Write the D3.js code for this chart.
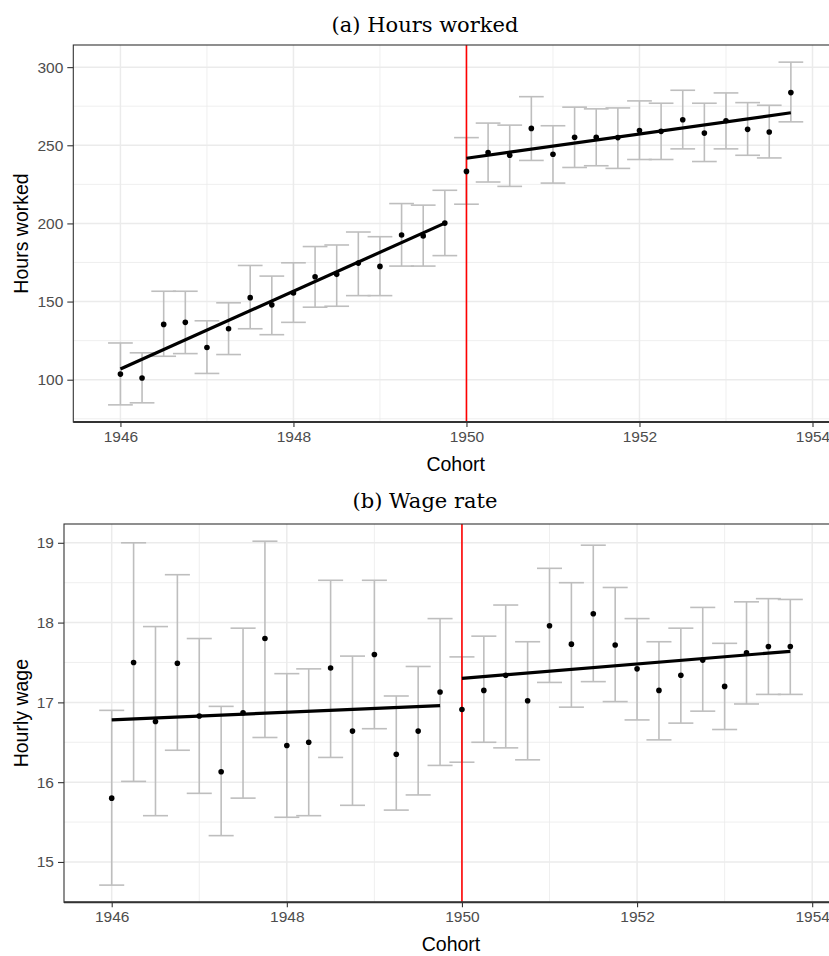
<!DOCTYPE html>
<html>
<head>
<meta charset="utf-8">
<script src="https://cdn.jsdelivr.net/npm/d3@7/dist/d3.min.js"></script>
<style>
  html, body { margin: 0; padding: 0; background: #ffffff; }
  svg { display: block; }
</style>
</head>
<body>
<svg id="chart" width="829" height="956"></svg>
<script>
// ---------------- DATA ----------------
const cohorts = [1946, 1946.25, 1946.5, 1946.75, 1947, 1947.25, 1947.5, 1947.75,
                 1948, 1948.25, 1948.5, 1948.75, 1949, 1949.25, 1949.5, 1949.75,
                 1950, 1950.25, 1950.5, 1950.75, 1951, 1951.25, 1951.5, 1951.75,
                 1952, 1952.25, 1952.5, 1952.75, 1953, 1953.25, 1953.5, 1953.75];

const hoursPoint = [103.6, 101.1, 135.4, 136.7, 120.6, 132.6, 152.5, 147.9,
                    155.5, 165.9, 167.4, 174.6, 172.5, 192.6, 192.0, 200.2,
                    233.3, 245.3, 243.6, 260.8, 244.3, 255.1, 255.1, 254.9,
                    259.5, 258.9, 266.3, 257.8, 265.7, 260.2, 258.5, 283.7];
const hoursLower = [83.9, 85.2, 115.0, 116.7, 104.0, 116.1, 132.6, 128.8,
                    136.7, 146.4, 147.0, 153.8, 153.8, 172.7, 172.7, 179.4,
                    212.3, 226.5, 223.7, 240.3, 225.8, 235.8, 236.9, 235.2,
                    240.9, 240.9, 247.7, 239.6, 247.7, 243.6, 241.9, 265.0];
const hoursUpper = [123.5, 117.2, 156.6, 156.6, 137.7, 149.2, 173.1, 166.3,
                    174.8, 185.2, 186.2, 194.5, 191.5, 212.7, 211.7, 221.2,
                    254.9, 264.2, 262.9, 281.1, 262.5, 274.4, 273.3, 273.9,
                    278.4, 276.9, 285.2, 276.9, 283.5, 277.3, 275.6, 303.2];

const wagePoint = [15.80, 17.50, 16.76, 17.49, 16.83, 16.13, 16.87, 17.80,
                   16.46, 16.50, 17.43, 16.64, 17.60, 16.35, 16.64, 17.13,
                   16.91, 17.15, 17.34, 17.02, 17.96, 17.73, 18.11, 17.72,
                   17.42, 17.15, 17.34, 17.53, 17.20, 17.62, 17.70, 17.70];
const wageLower = [14.71, 16.01, 15.58, 16.40, 15.86, 15.33, 15.80, 16.56,
                   15.56, 15.58, 16.31, 15.71, 16.67, 15.65, 15.84, 16.21,
                   16.25, 16.50, 16.43, 16.28, 17.25, 16.94, 17.26, 17.01,
                   16.78, 16.53, 16.74, 16.89, 16.66, 16.98, 17.10, 17.10];
const wageUpper = [16.90, 19.00, 17.95, 18.60, 17.80, 16.95, 17.93, 19.02,
                   17.36, 17.42, 18.53, 17.58, 18.53, 17.08, 17.45, 18.05,
                   17.57, 17.83, 18.22, 17.76, 18.68, 18.50, 18.97, 18.44,
                   18.05, 17.76, 17.93, 18.19, 17.74, 18.26, 18.30, 18.29];

// fitted regression segments (endpoints)
const fitPreX  = [1946, 1949.75];
const fitPostX = [1950, 1953.75];
const hoursFitPre  = [106.8, 200.2];
const hoursFitPost = [241.7, 270.8];
const wageFitPre   = [16.78, 16.96];
const wageFitPost  = [17.30, 17.64];

const cutoff = 1950;
const xTicks = [1946, 1948, 1950, 1952, 1954];
const xMinor = [1947, 1949, 1951, 1953];
const hoursTicks = [100, 150, 200, 250, 300];
const hoursMinor = [75, 125, 175, 225, 275];
const wageTicks = [15, 16, 17, 18, 19];
const wageMinor = [14.5, 15.5, 16.5, 17.5, 18.5];

const titles = ["(a) Hours worked", "(b) Wage rate"];
const yTitles = ["Hours worked", "Hourly wage"];
const xTitle = "Cohort";

// ---------------- DRAW ----------------
const svg = d3.select("#chart");
const capWidth = 0.286;

function expand(lo, hi) {
  const r = hi - lo;
  return [lo - 0.05 * r, hi + 0.05 * r];
}

function drawPanel(cfg) {
  const g = svg.append("g");
  const xDom = expand(d3.min(cohorts) - capWidth / 2, d3.max(cohorts) + capWidth / 2);
  const yDom = expand(d3.min(cfg.lower), d3.max(cfg.upper));
  const x = d3.scaleLinear().domain(xDom).range([cfg.left, cfg.right]);
  const y = d3.scaleLinear().domain(yDom).range([cfg.bottom, cfg.top]);

  // grid
  const grid = g.append("g");
  grid.selectAll(".xminor").data(xMinor).enter().append("line")
    .attr("x1", d => x(d)).attr("x2", d => x(d))
    .attr("y1", cfg.top).attr("y2", cfg.bottom)
    .attr("stroke", "#EBEBEB").attr("stroke-width", 0.8);
  grid.selectAll(".yminor").data(cfg.yMinor).enter().append("line")
    .attr("x1", cfg.left).attr("x2", cfg.right)
    .attr("y1", d => y(d)).attr("y2", d => y(d))
    .attr("stroke", "#EBEBEB").attr("stroke-width", 0.8);
  grid.selectAll(".xmajor").data(xTicks).enter().append("line")
    .attr("x1", d => x(d)).attr("x2", d => x(d))
    .attr("y1", cfg.top).attr("y2", cfg.bottom)
    .attr("stroke", "#EBEBEB").attr("stroke-width", 1.5);
  grid.selectAll(".ymajor").data(cfg.yTicks).enter().append("line")
    .attr("x1", cfg.left).attr("x2", cfg.right)
    .attr("y1", d => y(d)).attr("y2", d => y(d))
    .attr("stroke", "#EBEBEB").attr("stroke-width", 1.5);

  // error bars
  const eb = g.append("g").attr("stroke", "#BEBEBE").attr("stroke-width", 1.6).attr("fill", "none");
  cohorts.forEach((c, i) => {
    eb.append("line").attr("x1", x(c)).attr("x2", x(c))
      .attr("y1", y(cfg.lower[i])).attr("y2", y(cfg.upper[i]));
    eb.append("line").attr("x1", x(c - capWidth / 2)).attr("x2", x(c + capWidth / 2))
      .attr("y1", y(cfg.lower[i])).attr("y2", y(cfg.lower[i]));
    eb.append("line").attr("x1", x(c - capWidth / 2)).attr("x2", x(c + capWidth / 2))
      .attr("y1", y(cfg.upper[i])).attr("y2", y(cfg.upper[i]));
  });

  // cutoff line
  g.append("line")
    .attr("x1", x(cutoff)).attr("x2", x(cutoff))
    .attr("y1", cfg.top).attr("y2", cfg.bottom)
    .attr("stroke", "#FF0000").attr("stroke-width", 1.6);

  // fitted lines
  const line = d3.line().x(d => x(d[0])).y(d => y(d[1]));
  [[fitPreX, cfg.fitPre], [fitPostX, cfg.fitPost]].forEach(([xs, ys]) => {
    g.append("path").datum(d3.zip(xs, ys))
      .attr("d", line).attr("fill", "none")
      .attr("stroke", "#000000").attr("stroke-width", 3.2);
  });

  // points
  g.append("g").selectAll("circle").data(cohorts).enter().append("circle")
    .attr("cx", d => x(d)).attr("cy", (d, i) => y(cfg.point[i]))
    .attr("r", 2.8).attr("fill", "#000000");

  // panel border
  g.append("rect")
    .attr("x", cfg.left).attr("y", cfg.top)
    .attr("width", cfg.right - cfg.left).attr("height", cfg.bottom - cfg.top)
    .attr("fill", "none").attr("stroke", "#333333").attr("stroke-width", 1.1);
  g.append("line")
    .attr("x1", cfg.left).attr("x2", cfg.right)
    .attr("y1", cfg.bottom).attr("y2", cfg.bottom)
    .attr("stroke", "#333333").attr("stroke-width", 2);

  // axes
  const xAxis = d3.axisBottom(x).tickValues(xTicks).tickFormat(d3.format("d"))
    .tickSize(5).tickPadding(4);
  const xa = g.append("g").attr("transform", `translate(0,${cfg.bottom})`).call(xAxis);
  xa.select(".domain").remove();
  xa.selectAll(".tick line").attr("stroke", "#333333").attr("stroke-width", 1.1);
  xa.selectAll(".tick text").attr("fill", "#4D4D4D")
    .style("font-family", "'Liberation Sans', Arial, sans-serif").style("font-size", "15.5px");

  const yAxis = d3.axisLeft(y).tickValues(cfg.yTicks).tickFormat(d3.format("d"))
    .tickSize(6).tickPadding(4);
  const ya = g.append("g").attr("transform", `translate(${cfg.left},0)`).call(yAxis);
  ya.select(".domain").remove();
  ya.selectAll(".tick line").attr("stroke", "#333333").attr("stroke-width", 1.1);
  ya.selectAll(".tick text").attr("fill", "#4D4D4D")
    .style("font-family", "'Liberation Sans', Arial, sans-serif").style("font-size", "15.5px");

  // titles
  svg.append("text").attr("x", 425).attr("y", cfg.titleY)
    .attr("text-anchor", "middle")
    .style("font-family", "'DejaVu Serif', serif").style("font-size", "21px")
    .attr("fill", "#000000").text(cfg.title);
  svg.append("text").attr("x", (cfg.left + cfg.right) / 2).attr("y", cfg.bottom + 49)
    .attr("text-anchor", "middle")
    .style("font-family", "'Liberation Sans', Arial, sans-serif").style("font-size", "19.5px")
    .attr("fill", "#000000").text(xTitle);
  svg.append("text")
    .attr("transform", `translate(28,${(cfg.top + cfg.bottom) / 2}) rotate(-90)`)
    .attr("text-anchor", "middle")
    .style("font-family", "'Liberation Sans', Arial, sans-serif").style("font-size", "19.5px")
    .attr("fill", "#000000").text(cfg.yTitle);
}

drawPanel({
  left: 73.3, right: 838, top: 45, bottom: 422,
  point: hoursPoint, lower: hoursLower, upper: hoursUpper,
  fitPre: hoursFitPre, fitPost: hoursFitPost,
  yTicks: hoursTicks, yMinor: hoursMinor,
  title: titles[0], titleY: 31.5, yTitle: yTitles[0]
});
drawPanel({
  left: 64, right: 838, top: 524, bottom: 902.3,
  point: wagePoint, lower: wageLower, upper: wageUpper,
  fitPre: wageFitPre, fitPost: wageFitPost,
  yTicks: wageTicks, yMinor: wageMinor,
  title: titles[1], titleY: 508, yTitle: yTitles[1]
});
</script>
</body>
</html>
